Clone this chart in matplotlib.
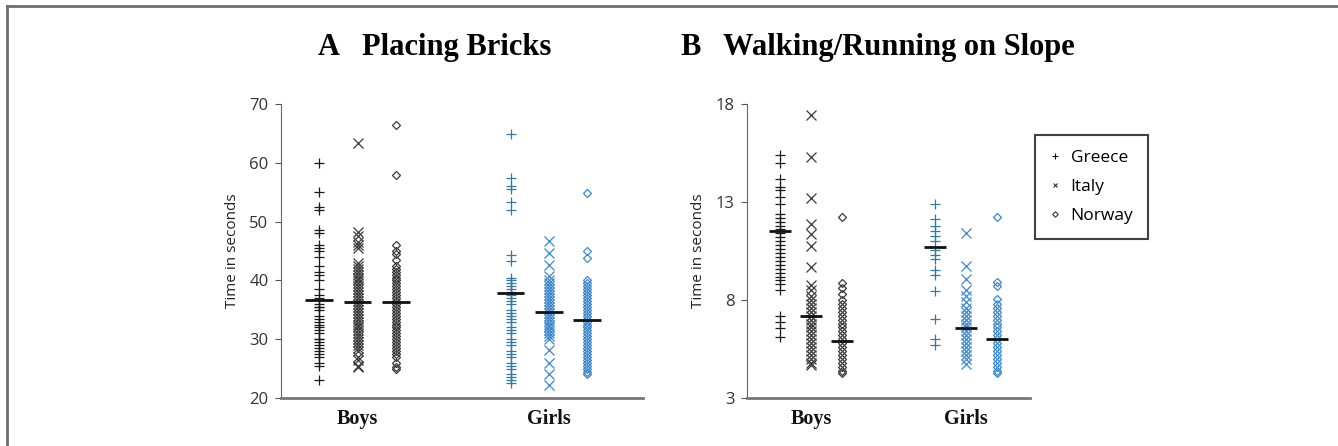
import numpy as np
import matplotlib.pyplot as plt
from matplotlib.lines import Line2D

# ---- data ----
countries = ['Greece', 'Italy', 'Norway']
groups = ['Boys', 'Girls']

bricks_boys = {
    'Greece': [60, 55, 52.5, 52, 48.5, 48, 46, 45.5, 45, 44, 42.5, 41.5, 41, 40, 38.5,
               37.5, 37, 36, 35.5, 35.5, 35, 34, 33.5, 33, 32.5, 32, 31.5, 31, 30, 30,
               29.5, 29, 28.5, 28, 27.5, 27, 26, 25.5, 23],
    'Italy': [63.3, 48.3, 47.5, 46.5, 46, 45.5, 43, 42.5, 42, 41.5, 41, 40.5, 40, 39.5,
              39, 38.5, 38, 37.5, 37, 36.5, 36, 35.5, 35, 34.5, 34, 33.5, 33, 32.5, 32,
              31.5, 31, 30.5, 30, 29.5, 29, 28.5, 28, 27, 26.5, 25.5, 25.2],
    'Norway': [66.5, 58, 46, 45, 44.5, 43.5, 42.5, 42, 41.5, 41, 40.5, 40, 39.5, 39,
               38.5, 38, 37.5, 37, 36.5, 36, 35.5, 35, 34.5, 34, 33.5, 33, 32.5, 32,
               31.5, 31, 30.5, 30, 29.5, 29, 28.5, 28, 27.5, 27, 26, 25.3, 25],
}
bricks_girls = {
    'Greece': [64.9, 57.5, 56, 55.5, 53.3, 52, 44.4, 43.3, 40.5, 40, 39.5, 39, 38.5, 38,
               37.5, 37, 36.5, 36, 35, 34.5, 34, 33.5, 33, 32, 31.5, 31, 30, 29.5, 29,
               28, 27.5, 27, 26, 25.5, 25, 24, 23.5, 23, 22.5],
    'Italy': [46.7, 44.7, 42.7, 40.7, 40, 39.5, 39, 38.5, 38, 37.5, 37, 36.5, 36, 35.5,
              35, 34.5, 34, 33.5, 33, 32.5, 32, 31.5, 31, 30.5, 30, 28.2, 26, 24, 22.2],
    'Norway': [54.8, 45, 43.9, 40.1, 39.5, 39, 38.5, 38, 37.5, 37, 36.5, 36, 35.5, 35,
               34.5, 34, 33.5, 33, 32.5, 32, 31.5, 31, 30.5, 30, 29.5, 29, 28.5, 28,
               27.5, 27, 26.5, 26, 25.5, 25, 24.5, 24],
}
bricks_means = {'Boys': [36.6, 36.4, 36.4], 'Girls': [37.9, 34.7, 33.3]}

slope_boys = {
    'Greece': [15.4, 15.0, 14.2, 13.75, 13.6, 13.25, 12.9, 12.4, 12.2, 12.0, 11.8, 11.6,
               11.4, 11.2, 11.0, 10.8, 10.6, 10.4, 10.2, 10.0, 9.8, 9.6, 9.4, 9.2, 9.0,
               8.8, 8.5, 7.2, 6.9, 6.55, 6.1],
    'Italy': [17.43, 15.3, 13.2, 11.9, 11.35, 10.77, 9.7, 8.78, 8.5, 8.2, 8.0, 7.8, 7.6,
              7.4, 7.2, 7.0, 6.8, 6.6, 6.4, 6.2, 6.0, 5.8, 5.6, 5.4, 5.2, 5.0, 4.8, 4.68],
    'Norway': [12.23, 8.86, 8.6, 8.3, 8.0, 7.8, 7.6, 7.4, 7.2, 7.0, 6.8, 6.6, 6.4, 6.2,
               6.0, 5.8, 5.6, 5.4, 5.2, 5.0, 4.8, 4.6, 4.4, 4.3],
}
slope_girls = {
    'Greece': [12.9, 12.15, 11.8, 11.5, 11.25, 11.0, 10.55, 10.3, 10.1, 9.54, 9.3, 8.44,
               7.05, 6.0, 5.7],
    'Italy': [11.42, 9.74, 9.07, 8.5, 8.2, 7.9, 7.6, 7.4, 7.2, 7.0, 6.8, 6.6, 6.4, 6.2,
              6.0, 5.8, 5.6, 5.4, 5.2, 5.0, 4.73],
    'Norway': [12.23, 8.9, 8.7, 8.06, 7.8, 7.6, 7.4, 7.2, 7.0, 6.8, 6.6, 6.4, 6.2, 6.0,
               5.8, 5.6, 5.4, 5.2, 5.0, 4.8, 4.6, 4.4, 4.27],
}
slope_means = {'Boys': [11.5, 7.18, 5.91], 'Girls': [10.7, 6.59, 6.03]}

bricks_ticks = [20, 30, 40, 50, 60, 70]
slope_ticks = [3, 8, 13, 18]

# ---- styling ----
markers = {'Greece': '+', 'Italy': 'x', 'Norway': 'D'}
msizes = {'Greece': 6.5, 'Italy': 6.5, 'Norway': 4}
colors = {'Boys': {'Greece': '#1a1a1a', 'Italy': '#3a3a3a', 'Norway': '#3a3a3a'},
          'Girls': {'Greece': '#2f7aa6', 'Italy': '#3b88cc', 'Norway': '#3b88cc'}}
centers = {'Boys': 2.0, 'Girls': 7.0}
offsets = [-1.0, 0.0, 1.0]
sans = 'Open Sans'
serif = 'Liberation Serif'

fig = plt.figure(figsize=(13.38, 4.46), dpi=100)

# thin frame on top and left of the figure
fig.add_artist(Line2D([0.0052, 1.0], [0.9865, 0.9865], color='#6e6e6e', lw=2,
                      transform=fig.transFigure))
fig.add_artist(Line2D([0.0052, 0.0052], [0.0, 0.9865], color='#6e6e6e', lw=2,
                      transform=fig.transFigure))


def panel(ax, boys, girls, means, ticks, xlim):
    for grp, data in (('Boys', boys), ('Girls', girls)):
        for i, c in enumerate(countries):
            x = centers[grp] + offsets[i]
            vals = data[c]
            col = colors[grp][c]
            if c == 'Norway':
                ax.plot([x] * len(vals), vals, linestyle='none', marker='D',
                        ms=msizes[c], mfc='none', mec=col, mew=0.9)
            else:
                ax.plot([x] * len(vals), vals, linestyle='none', marker=markers[c],
                        ms=msizes[c], color=col, mew=0.9)
            ax.hlines(means[grp][i], x - 0.36, x + 0.36, color='#111111', lw=2,
                      zorder=5)
    ax.set_ylim(ticks[0], ticks[-1])
    ax.set_yticks(ticks)
    ax.set_xlim(*xlim)
    ax.set_xticks([centers['Boys'], centers['Girls']])
    ax.set_xticklabels(groups, family=serif, fontweight='bold',
                       fontsize=14.5, color='#111111')
    ax.tick_params(axis='x', length=0, pad=8)
    ax.tick_params(axis='y', length=4, width=0.8, color='#555555', labelsize=12,
                   labelcolor='#333333', direction='out', pad=5)
    for t in ax.get_yticklabels():
        t.set_family(sans)
    ax.spines['top'].set_visible(False)
    ax.spines['right'].set_visible(False)
    ax.spines['left'].set_color('#666666')
    ax.spines['left'].set_linewidth(0.8)
    ax.spines['bottom'].set_color('#777777')
    ax.spines['bottom'].set_linewidth(2)
    ax.set_ylabel('Time in seconds', family=sans, fontsize=11, color='#222222',
                  labelpad=7)


axA = fig.add_axes([0.210, 0.1076, 0.2706, 0.659])
panel(axA, bricks_boys, bricks_girls, bricks_means, bricks_ticks, (0.0, 9.46))

axB = fig.add_axes([0.5583, 0.1076, 0.2115, 0.659])
panel(axB, slope_boys, slope_girls, slope_means, slope_ticks, (-0.06, 9.06))

# titles
ty = 0.893
fig.text(318 / 1338, ty, 'A', family=serif, fontweight='bold', fontsize=22,
         va='center')
fig.text(362 / 1338, ty, 'Placing Bricks', family=serif, fontweight='bold',
         fontsize=22, va='center')
fig.text(680 / 1338, ty, 'B', family=serif, fontweight='bold', fontsize=22,
         va='center')
fig.text(723 / 1338, ty, 'Walking/Running on Slope', family=serif,
         fontweight='bold', fontsize=22, va='center')

# legend
handles = [Line2D([], [], linestyle='none', marker='+', ms=4.5, color='#111111', mew=0.8),
           Line2D([], [], linestyle='none', marker='x', ms=3.5, color='#333333', mew=0.8),
           Line2D([], [], linestyle='none', marker='D', ms=2.8, mfc='none',
                  mec='#333333', mew=0.8)]
leg = fig.legend(handles, countries, loc='upper left',
                 bbox_to_anchor=(1035 / 1338, 1 - 135 / 446), frameon=True,
                 fancybox=False, prop={'family': sans, 'size': 12.5},
                 handlelength=0.6, handletextpad=0.6, labelspacing=0.75,
                 borderpad=0.85, borderaxespad=0)
leg.get_frame().set_edgecolor('#111111')
leg.get_frame().set_linewidth(1.5)

fig.savefig('out.png', dpi=100)
